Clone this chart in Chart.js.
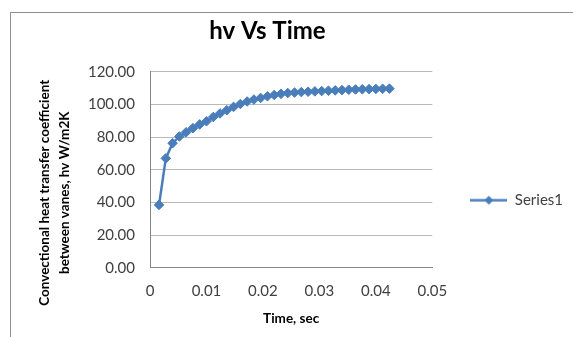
<!DOCTYPE html>
<html>
<head>
<meta charset="utf-8">
<title>hv Vs Time</title>
<script src="https://cdn.jsdelivr.net/npm/chart.js@4.4.0/dist/chart.umd.min.js"></script>
<style>
  html, body { margin: 0; padding: 0; background: #fff; overflow: hidden; }
  #wrap { position: relative; width: 573px; height: 337px; }
  /* outer chart frame like the Excel chart area */
  #frame { position: absolute; left: 10px; top: 12px; width: 640px; height: 400px; border: 1px solid #8e8e8e; }
  canvas { position: absolute; left: 0; top: 0; }
</style>
</head>
<body>
<div id="wrap">
  <div id="frame"></div>
  <canvas id="chart" width="573" height="337"></canvas>
</div>
<script>
// Data
const times = [
  0.0016, 0.0028, 0.0040, 0.0052, 0.0064, 0.0076, 0.0088, 0.0100, 0.0112, 0.0124,
  0.0136, 0.0148, 0.0160, 0.0172, 0.0184, 0.0196, 0.0208, 0.0220, 0.0232, 0.0244,
  0.0256, 0.0268, 0.0280, 0.0292, 0.0304, 0.0316, 0.0328, 0.0340, 0.0352, 0.0364,
  0.0376, 0.0388, 0.0400, 0.0412, 0.0424
];
const hv = [
  38.5, 67.0, 76.3, 80.4, 83.0, 85.5, 87.8, 89.7, 92.3, 94.5,
  96.5, 98.5, 100.3, 101.8, 103.0, 104.0, 105.0, 105.8, 106.5, 107.0,
  107.3, 107.6, 107.8, 108.0, 108.2, 108.4, 108.6, 108.8, 109.0, 109.2,
  109.3, 109.4, 109.5, 109.6, 109.7
];
const seriesName = "Series1";
const chartTitle = "hv Vs Time";
const xTitle = "Time, sec";
const yTitle = ["Convectional heat transfer coefficient", "between vanes, hv W/m2K"];
const xTicks = [0, 0.05, 0.01];   // min, max, step
const yTicks = [0, 120, 20];

const blue = "#4a7ebb";
const textGray = "#404040";
Chart.defaults.font.family = "Lato, 'Open Sans', sans-serif";

// legend symbol: a short line with a diamond marker, as Excel draws it
const legendIcon = document.createElement("canvas");
legendIcon.width = 37;
legendIcon.height = 11;
const ic = legendIcon.getContext("2d");
ic.strokeStyle = blue;
ic.lineWidth = 2.5;
ic.beginPath();
ic.moveTo(0, 5.5);
ic.lineTo(37, 5.5);
ic.stroke();
ic.fillStyle = blue;
ic.beginPath();
ic.moveTo(18.5, 1);
ic.lineTo(23, 5.5);
ic.lineTo(18.5, 10);
ic.lineTo(14, 5.5);
ic.closePath();
ic.fill();

const ctx = document.getElementById("chart").getContext("2d");
new Chart(ctx, {
  type: "scatter",
  data: {
    datasets: [
      {
        label: seriesName,
        data: times.map((t, i) => ({ x: t, y: hv[i] })),
        showLine: true,
        borderColor: blue,
        backgroundColor: blue,
        borderWidth: 2.5,
        pointStyle: "rectRot",
        pointRadius: 4.8,
        pointBorderWidth: 1,
        tension: 0,
      },
    ],
  },
  options: {
    responsive: false,
    animation: false,
    devicePixelRatio: 1,
    layout: { padding: { left: -38, right: 0, top: 0, bottom: 0 } },
    plugins: {
      title: {
        display: true,
        text: chartTitle,
        color: "#000",
        font: { size: 24, weight: "bold" },
        padding: { top: 17, bottom: 26 },
      },
      legend: {
        position: "right",
        // empty title only used to push the entry down to where Excel puts it
        title: { display: true, text: "", font: { size: 12 }, padding: { top: 0, bottom: 49 } },
        labels: {
          color: textGray,
          font: { size: 15 },
          padding: 38,
          usePointStyle: true,
          pointStyleWidth: 37,
          generateLabels: (chart) =>
            Chart.defaults.plugins.legend.labels
              .generateLabels(chart)
              .map((item) => ({ ...item, pointStyle: legendIcon })),
        },
      },
      tooltip: { enabled: false },
    },
    scales: {
      x: {
        type: "linear",
        min: xTicks[0],
        max: xTicks[1],
        grid: { display: false, drawTicks: true, tickLength: 10 },
        border: { display: true, color: "#868686", width: 1 },
        ticks: {
          stepSize: xTicks[2],
          padding: 4,
          color: textGray,
          font: { size: 15 },
          maxRotation: 0,
          autoSkip: false,
          callback: (v) => (v === 0 ? "0" : Number(v).toFixed(2)),
        },
        title: {
          display: true,
          text: xTitle,
          color: "#000",
          font: { size: 13.5, weight: "bold" },
          padding: { top: 7, bottom: 10 },
        },
      },
      y: {
        min: yTicks[0],
        max: yTicks[1],
        afterFit: (scale) => {
          scale.width = 188;
        },
        grid: { color: "#b9b9b9", drawTicks: false },
        border: { display: true, color: "#868686", width: 1 },
        ticks: {
          stepSize: yTicks[2],
          padding: 15,
          color: textGray,
          font: { size: 15 },
          callback: (v) => Number(v).toFixed(2),
        },
        title: {
          display: true,
          // trailing spaces nudge the rotated text down like in the original
          text: yTitle.map((s) => s + " ".repeat(14)),
          color: "#000",
          font: { size: 13.5, weight: "bold", lineHeight: 1.48 },
          padding: { top: 73, bottom: 0 },
        },
      },
    },
  },
});
</script>
</body>
</html>
